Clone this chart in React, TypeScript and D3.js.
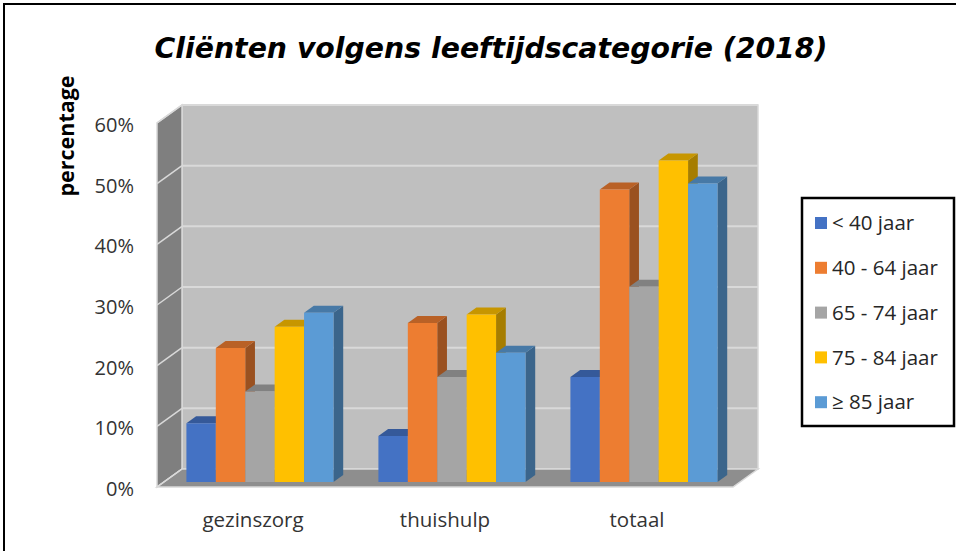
import * as d3 from 'd3';

const categories = ['gezinszorg', 'thuishulp', 'totaal'];
const seriesNames = ['< 40 jaar', '40 - 64 jaar', '65 - 74 jaar', '75 - 84 jaar', '≥ 85 jaar'];
const under40 = [9.7, 7.6, 17.3];
const age40to64 = [22.1, 26.2, 48.2];
const age65to74 = [14.9, 17.3, 32.2];
const age75to84 = [25.6, 27.6, 53.0];
const over85 = [27.9, 21.3, 49.2];
const yTicks = [0, 10, 20, 30, 40, 50, 60];

const seriesValues = [under40, age40to64, age65to74, age75to84, over85];
const COLORS = ['#4472C4', '#ED7D31', '#A5A5A5', '#FFC000', '#5B9BD5'];

const W = 956;
const H = 551;

// back wall in screen coords, depth offset towards the viewer
const wall = { left: 182, right: 758, top: 105, bottom: 469 };
const DEPTH_X = 25;
const DEPTH_Y = 18;
const BAR_FRONT = 13 / 18;
const BAR_BACK = 6 / 18;

const proj = (x: number, y: number, d: number): [number, number] => [x - DEPTH_X * d, y + DEPTH_Y * d];
const poly = (pts: [number, number][]) => pts.map((p) => p.join(',')).join(' ');

export default function App() {
  const xCat = d3.scaleBand().domain(categories).range([wall.left, wall.right]).padding(0);
  const groupW = xCat.bandwidth();
  const xSer = d3
    .scaleBand()
    .domain(seriesNames)
    .range([groupW * 0.117, groupW * 0.883])
    .padding(0);
  const yScale = d3.scaleLinear().domain([0, 60]).range([wall.bottom, wall.top]);
  const y0 = yScale(0);

  const gridColor = '#D9D9D9';

  return (
    <svg
      width={W}
      height={H}
      style={{ position: 'absolute', left: 0, top: 0, background: '#fff' }}
      fontFamily="'Open Sans', sans-serif"
    >
      {/* outer frame */}
      <rect x={4} y={4} width={W + 10} height={H + 10} fill="#fff" stroke="#000" strokeWidth={2} />

      {/* title */}
      <text
        x={491}
        y={58}
        textAnchor="middle"
        fontFamily="'DejaVu Sans', sans-serif"
        fontWeight="bold"
        fontStyle="italic"
        fontSize={29}
        textLength={673}
        lengthAdjust="spacingAndGlyphs"
        fill="#000"
      >
        Cliënten volgens leeftijdscategorie (2018)
      </text>

      {/* y axis title */}
      <text
        transform="translate(74,136) rotate(-90)"
        textAnchor="middle"
        fontWeight="bold"
        fontSize={21.5}
        fill="#000"
      >
        percentage
      </text>

      {/* back wall */}
      <rect
        x={wall.left}
        y={wall.top}
        width={wall.right - wall.left}
        height={wall.bottom - wall.top}
        fill="#BFBFBF"
        stroke={gridColor}
        strokeWidth={1.5}
      />
      {/* side wall */}
      <polygon
        points={poly([
          proj(wall.left, wall.top, 0),
          proj(wall.left, wall.bottom, 0),
          proj(wall.left, wall.bottom, 1),
          proj(wall.left, wall.top, 1),
        ])}
        fill="#7F7F7F"
        stroke={gridColor}
        strokeWidth={1.5}
      />
      {/* floor */}
      <polygon
        points={poly([
          proj(wall.left, y0, 0),
          proj(wall.right, y0, 0),
          proj(wall.right, y0, 1),
          proj(wall.left, y0, 1),
        ])}
        fill="#8E8E8E"
        stroke={gridColor}
        strokeWidth={1.5}
      />

      {/* gridlines */}
      {yTicks.map((t) => {
        const y = yScale(t);
        const [fx, fy] = proj(wall.left, y, 1);
        return (
          <g key={t}>
            {t > 0 && <line x1={wall.left} x2={wall.right} y1={y} y2={y} stroke={gridColor} strokeWidth={2} />}
            <line x1={wall.left} y1={y} x2={fx} y2={fy} stroke={gridColor} strokeWidth={1.5} />
            <text x={134} y={fy + 2} dy="0.35em" textAnchor="end" fontSize={20} fill="#333">
              {t}%
            </text>
          </g>
        );
      })}

      {/* bars */}
      {categories.map((cat, ci) => (
        <g key={cat}>
          {seriesNames.map((s, si) => {
            const v = seriesValues[si][ci];
            const x0 = (xCat(cat) ?? 0) + (xSer(s) ?? 0);
            const x1 = x0 + xSer.bandwidth();
            const y = yScale(v);
            const base = d3.color(COLORS[si])!;
            const top = base.darker(0.7).formatHex();
            const side = base.darker(1.2).formatHex();
            return (
              <g key={s}>
                <polygon
                  points={poly([proj(x1, y, BAR_FRONT), proj(x1, y, BAR_BACK), proj(x1, y0, BAR_BACK), proj(x1, y0, BAR_FRONT)])}
                  fill={side}
                />
                <polygon
                  points={poly([proj(x0, y, BAR_FRONT), proj(x1, y, BAR_FRONT), proj(x1, y, BAR_BACK), proj(x0, y, BAR_BACK)])}
                  fill={top}
                />
                <polygon
                  points={poly([proj(x0, y, BAR_FRONT), proj(x1, y, BAR_FRONT), proj(x1, y0, BAR_FRONT), proj(x0, y0, BAR_FRONT)])}
                  fill={COLORS[si]}
                />
              </g>
            );
          })}
          <text
            x={proj((xCat(cat) ?? 0) + groupW / 2, 0, 1)[0]}
            y={527}
            textAnchor="middle"
            fontSize={20.5}
            fill="#333"
          >
            {cat}
          </text>
        </g>
      ))}

      {/* legend */}
      <rect x={802} y={198} width={152} height={228} fill="#fff" stroke="#000" strokeWidth={2.5} />
      {seriesNames.map((s, i) => {
        const cy = 223 + i * 44.8;
        return (
          <g key={s}>
            <rect x={815} y={cy - 6} width={12} height={12} fill={COLORS[i]} />
            <text x={832} y={cy} dy="0.35em" fontSize={20.5} fill="#262626">
              {s}
            </text>
          </g>
        );
      })}
    </svg>
  );
}
